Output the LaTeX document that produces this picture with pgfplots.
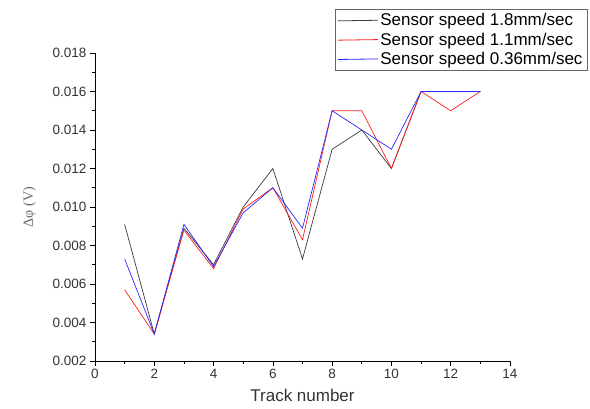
\documentclass[border=0pt]{standalone}
\usepackage{pgfplots}
\pgfplotsset{compat=1.18}
\usepackage{fontspec}
\setmainfont{Liberation Sans}
\newfontfamily\serif{Liberation Serif}
\definecolor{sgray}{RGB}{60,60,60}
\definecolor{sred}{RGB}{255,30,30}
\definecolor{sblue}{RGB}{40,40,255}

\begin{document}
\begin{tikzpicture}
\useasboundingbox (-95pt,-48pt) rectangle (495pt,361pt);
\begin{axis}[
  at={(0,0)}, anchor=south west,
  scale only axis,
  width=415pt, height=308pt,
  xmin=0, xmax=14, ymin=0.002, ymax=0.018,
  xtick={0,2,...,14}, minor x tick num=1,
  ytick={0.002,0.004,...,0.0181}, minor y tick num=1,
  axis x line*=bottom, axis y line*=left,
  axis line style={-, black, line width=0.8pt},
  tick align=outside,
  major tick length=5pt, minor tick length=3pt,
  tick style={black, line width=0.6pt},
  yticklabel style={/pgf/number format/fixed, /pgf/number format/fixed zerofill,
    /pgf/number format/precision=3, font=\fontsize{13.5}{15}\selectfont, text=black!80},
  xticklabel style={font=\fontsize{13.5}{15}\selectfont, text=black!80},
  scaled y ticks=false,
  /pgf/number format/assume math mode=true,
  xlabel={Track number},
  xlabel style={font=\fontsize{17}{19}\selectfont, text=black!80, yshift=-3pt},
  ylabel={{\serif Δφ (V)}},
  ylabel style={font=\fontsize{14}{16}\selectfont, text=black!60, yshift=10pt},
  legend style={at={(1.186,1.143)}, anchor=north east, draw=black!60,
    font=\fontsize{17}{19}\selectfont, row sep=1.5pt, inner sep=2.5pt},
  legend cell align=left,
  legend image code/.code={\draw[#1, line width=0.8pt] (0pt,-0.3pt) -- (40pt,0.3pt);},
]
\addplot[sgray, line width=0.7pt] coordinates {
  (1,0.0091) (2,0.0034) (3,0.0089) (4,0.0070) (5,0.0100) (6,0.0120) (7,0.0073)
  (8,0.0130) (9,0.0140) (10,0.0120) (11,0.0160) (12,0.0160) (13,0.0160)};
\addlegendentry{Sensor speed 1.8mm/sec}
\addplot[sred, line width=0.7pt] coordinates {
  (1,0.0057) (2,0.0034) (3,0.0088) (4,0.0068) (5,0.0099) (6,0.0110) (7,0.0083)
  (8,0.0150) (9,0.0150) (10,0.0120) (11,0.0160) (12,0.0150) (13,0.0160)};
\addlegendentry{Sensor speed 1.1mm/sec}
\addplot[sblue, line width=0.7pt] coordinates {
  (1,0.0073) (2,0.0034) (3,0.0091) (4,0.0069) (5,0.0097) (6,0.0110) (7,0.0089)
  (8,0.0150) (9,0.0140) (10,0.0130) (11,0.0160) (12,0.0160) (13,0.0160)};
\addlegendentry{Sensor speed 0.36mm/sec}
\end{axis}
\end{tikzpicture}
\end{document}
